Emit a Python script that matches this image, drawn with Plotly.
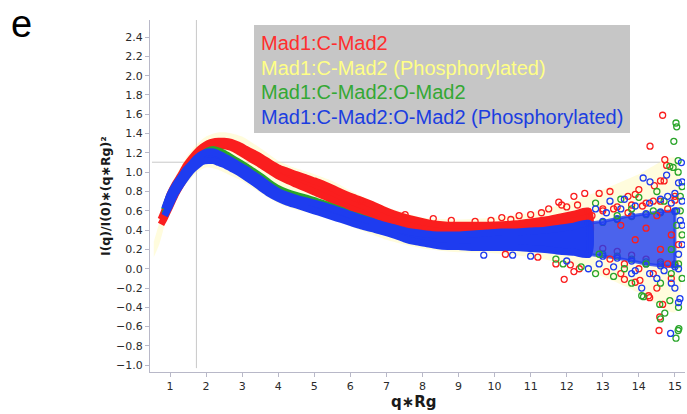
import plotly.graph_objects as go
import numpy as np

# ---------------- data ----------------
# common q*Rg sampling of the dense part of each Kratky curve
q_grid = [0.75, 0.85, 1.0, 1.15, 1.3, 1.45, 1.6, 1.75, 1.9, 2.05,
          2.2, 2.35, 2.5, 2.7, 2.9, 3.1, 3.3, 3.5, 3.75, 4.0,
          4.25, 4.5, 4.75, 5.0, 5.25, 5.5, 5.75, 6.0, 6.3, 6.6,
          6.9, 7.2, 7.5, 7.8, 8.1, 8.4, 8.7, 9.0, 9.4, 9.8,
          10.2, 10.6, 11.0, 11.4, 11.8, 12.2, 12.6, 13.0, 13.4, 13.8,
          14.2, 14.6, 15.0]

# Mad1:C-Mad2 (starts at q_grid[0])
red_lo = [0.46, 0.53, 0.65, 0.77, 0.87, 0.96, 1.04, 1.10, 1.16, 1.20,
          1.24, 1.27, 1.275, 1.255, 1.215, 1.17, 1.125, 1.08, 1.02, 0.96,
          0.915, 0.875, 0.835, 0.795, 0.755, 0.71, 0.665, 0.625, 0.58, 0.52,
          0.46, 0.43, 0.40, 0.38, 0.37, 0.35, 0.34, 0.35, 0.35, 0.35,
          0.35, 0.34, 0.33, 0.32, 0.30, 0.28, 0.25, 0.21, 0.18, 0.14,
          0.10, 0.07, 0.05]
red_hi = [0.51, 0.60, 0.77, 0.88, 0.97, 1.07, 1.145, 1.21, 1.26, 1.295,
          1.315, 1.32, 1.32, 1.31, 1.28, 1.24, 1.20, 1.16, 1.10, 1.045,
          1.01, 0.975, 0.945, 0.91, 0.875, 0.835, 0.79, 0.75, 0.71, 0.665,
          0.615, 0.57, 0.535, 0.505, 0.48, 0.46, 0.45, 0.45, 0.45, 0.45,
          0.455, 0.465, 0.485, 0.505, 0.535, 0.565, 0.595, 0.62, 0.64, 0.66,
          0.68, 0.70, 0.71]

# Mad1:C-Mad2:O-Mad2 (starts at q_grid[1])
green_lo = [0.57, 0.68, 0.80, 0.89, 0.97, 1.04, 1.09, 1.13, 1.14,
            1.14, 1.12, 1.10, 1.06, 1.02, 0.97, 0.92, 0.865, 0.80, 0.75,
            0.71, 0.68, 0.65, 0.62, 0.59, 0.56, 0.53, 0.50, 0.465, 0.435,
            0.405, 0.37, 0.33, 0.30, 0.28, 0.26, 0.25, 0.25, 0.24, 0.24,
            0.24, 0.24, 0.23, 0.22, 0.20, 0.19, 0.17, 0.15, 0.13, 0.10,
            0.07, 0.05, 0.04]
green_hi = [0.61, 0.76, 0.86, 0.94, 1.02, 1.08, 1.14, 1.18, 1.22,
            1.235, 1.22, 1.195, 1.15, 1.105, 1.06, 1.01, 0.96, 0.89, 0.83,
            0.79, 0.76, 0.735, 0.705, 0.675, 0.64, 0.605, 0.565, 0.53, 0.49,
            0.45, 0.42, 0.39, 0.37, 0.35, 0.345, 0.345, 0.345, 0.355, 0.365,
            0.37, 0.37, 0.38, 0.39, 0.41, 0.43, 0.46, 0.48, 0.51, 0.54,
            0.56, 0.58, 0.59]

# Mad1:C-Mad2:O-Mad2 (Phosphorylated) (starts at q_grid[1])
blue_lo = [0.55, 0.66, 0.78, 0.87, 0.95, 1.02, 1.07, 1.11, 1.12,
           1.12, 1.10, 1.08, 1.04, 1.0, 0.95, 0.90, 0.845, 0.78, 0.73,
           0.69, 0.66, 0.63, 0.60, 0.57, 0.54, 0.51, 0.48, 0.445, 0.415,
           0.385, 0.35, 0.31, 0.28, 0.26, 0.24, 0.23, 0.23, 0.22, 0.22,
           0.22, 0.22, 0.21, 0.20, 0.18, 0.17, 0.15, 0.13, 0.11, 0.08,
           0.05, 0.03, 0.02]
blue_hi = [0.62, 0.77, 0.87, 0.95, 1.03, 1.09, 1.15, 1.19, 1.21,
           1.21, 1.19, 1.16, 1.12, 1.075, 1.03, 0.98, 0.93, 0.86, 0.80,
           0.76, 0.73, 0.705, 0.68, 0.655, 0.625, 0.595, 0.56, 0.525, 0.49,
           0.455, 0.425, 0.395, 0.375, 0.36, 0.35, 0.35, 0.35, 0.36, 0.37,
           0.38, 0.38, 0.39, 0.40, 0.42, 0.44, 0.47, 0.49, 0.52, 0.55,
           0.57, 0.59, 0.60]

# Mad1:C-Mad2 (Phosphorylated): pale envelope
yel_q = [0.55, 0.7, 0.85, 1.0, 1.25, 1.5, 1.75, 2.0, 2.3, 2.6, 3.0, 3.5, 4.0, 4.5, 5.0, 5.5, 6.0,
         6.5, 7.0, 7.5, 8.0, 9.0, 10.0, 11.0, 12.0, 13.0, 14.0, 15.0]
yel_hi = [0.28, 0.47, 0.65, 0.82, 1.02, 1.18, 1.29, 1.37, 1.41, 1.41, 1.37, 1.25, 1.12, 1.04, 0.98,
          0.91, 0.81, 0.72, 0.64, 0.58, 0.53, 0.51, 0.53, 0.58, 0.68, 0.82, 0.98, 1.15]
yel_lo = [0.12, 0.25, 0.45, 0.60, 0.78, 0.90, 1.0, 1.05, 1.03, 0.98, 0.91, 0.79, 0.68, 0.61, 0.57,
          0.51, 0.44, 0.37, 0.30, 0.25, 0.21, 0.17, 0.16, 0.12, 0.05, -0.08, -0.25, -0.45]

# isolated noisy points
red_pts_q = [6.31, 7.52, 8.3, 8.8, 9.46, 9.9, 10.2, 10.45, 10.68, 11.0, 11.3, 11.5, 11.78, 11.86,
             12.0, 12.2, 12.3, 12.5, 12.9, 13.2, 13.7, 13.9, 14.0, 14.43, 14.6, 14.7, 14.72, 14.77,
             14.31, 14.66,
             10.3, 11.2, 11.7, 11.93, 12.1, 12.2, 12.35, 13.1, 13.5, 13.6, 13.9, 14.03, 14.27,
             14.3, 14.66, 14.58, 14.56, 14.5, 14.9,
             12.7, 13.0, 13.3, 13.5, 13.7, 13.9, 14.1, 14.2, 14.4, 14.5, 14.6, 14.8, 14.9, 15.0,
             13.2, 13.6, 14.0, 14.4, 14.8, 15.1]
red_pts_y = [0.70, 0.56, 0.52, 0.50, 0.49, 0.50, 0.53, 0.51, 0.55, 0.56, 0.58, 0.62, 0.69, 0.66,
             0.64, 0.75, 0.66, 0.78, 0.78, 0.80, 0.75, 0.77, 0.82, 0.86, 0.91, 0.91, 1.13, 1.07,
             1.27, 1.59,
             0.15, 0.12, 0.05, -0.11, 0.04, -0.03, 0.0, -0.03, -0.05, -0.11, -0.14, -0.12, -0.28,
             -0.30, -0.37, -0.50, -0.64, -0.20, -0.10,
             0.55, 0.60, 0.62, 0.45, 0.58, 0.30, 0.65, 0.42, 0.70, 0.55, 0.20, 0.62, 0.35, 0.75,
             0.10, 0.05, 0.0, -0.05, 0.05, 0.25]
green_pts_q = [11.7, 11.9, 12.4, 12.8, 13.3, 13.8, 14.08, 14.13, 14.58, 14.72, 14.6, 14.86, 15.1,
               15.11, 15.03, 15.09, 14.9, 15.1, 12.8, 13.5, 14.0, 14.5, 14.95, 15.09, 15.09, 14.97,
               15.03, 15.05, 14.86, 15.2, 15.15, 15.2,
               12.9, 13.4, 13.8, 14.2, 14.4, 14.7, 14.9, 15.05, 15.15, 15.2, 14.6, 13.6]
green_pts_y = [0.10, 0.05, 0.02, -0.05, -0.08, -0.15, -0.28, -0.29, -0.37, -0.46, -0.52, -0.33, -0.40,
               -0.62, -0.72, -0.64, -0.05, 0.05, 0.68, 0.72, 0.74, 0.80, 1.05, 1.0, 1.12, 1.32,
               1.51, 1.47, 1.06, 0.85, 0.60, 0.35,
               0.15, 0.55, 0.62, 0.05, 0.60, 0.70, 0.20, 0.45, 0.75, -0.10, -0.15, 0.0]
blue_pts_q = [9.7, 10.5, 11.0, 12.0, 12.6, 13.2, 13.6, 14.12, 14.31, 14.77, 15.1, 15.18, 15.0, 15.2,
              14.8, 15.15, 15.2, 15.1, 14.08, 15.0, 15.1, 15.14, 14.88, 14.5, 13.8, 14.9,
              12.8, 13.1, 13.5, 13.9, 14.3, 14.6, 14.9, 15.05, 15.2, 12.9, 13.3, 13.9, 14.3, 14.7,
              15.1, 15.2]
blue_pts_y = [0.14, 0.14, 0.13, 0.08, 0.0, 0.70, 0.72, 0.94, 0.90, 0.97, 0.89, 1.10, 0.78, 0.70,
              0.75, 0.50, 0.25, 0.15, -0.20, -0.20, -0.35, -0.31, -0.67, -0.10, -0.05, -0.15,
              0.62, 0.58, 0.62, 0.65, 0.68, 0.72, 0.68, 0.60, 0.45, 0.05, 0.02, -0.02, -0.05, -0.02,
              0.0, 0.90]

legend_labels = ["Mad1:C-Mad2", "Mad1:C-Mad2 (Phosphorylated)",
                 "Mad1:C-Mad2:O-Mad2", "Mad1:C-Mad2:O-Mad2 (Phosphorylated)"]

x_ticks = [1, 2, 3, 4, 5, 6, 7, 8, 9, 10, 11, 12, 13, 14, 15]
y_ticks = [-1.0, -0.8, -0.6, -0.4, -0.2, 0.0, 0.2, 0.4, 0.6, 0.8, 1.0, 1.2, 1.4, 1.6,
           1.8, 2.0, 2.2, 2.4]

# Kratky guide: peak position of a globular particle
guide_q = 3 ** 0.5
guide_y = 3 / np.e

# beyond this q*Rg the curves break up into a sparse cloud
dense_until = 12.6

# ---------------- style ----------------
RED, GREEN, BLUE = "#fa1e1e", "#2aa52a", "#1e3cf0"
YEL_FILL = "rgba(255,246,150,0.32)"
TEXT_COLORS = ["#ff2e2e", "#ffff86", "#34a834", "#1c3ee0"]
AXIS_COLOR = "#b8b8c8"
GUIDE_COLOR = "#c8c8c8"
TICK_FONT = dict(family="DejaVu Sans", size=11, color="#2a2a2a")
EDGE = 7  # stroke around each band, about one marker diameter

W, H = 687, 414
ML, MR, MT, MB = 150, 2, 20, 42
PW, PH = W - ML - MR, H - MT - MB


def xp(px):
    return (px - ML) / PW


def yp(py):
    return 1 - (py - MT) / PH


def open_circles(color, size=6):
    return dict(symbol="circle-open", size=size, color=color, line=dict(width=1.3, color=color))


def band_traces(q, lo, hi, col):
    """Dense body of a curve as a filled band; the sparse tail is returned separately."""
    d = [i for i, v in enumerate(q) if v <= dense_until]
    s = [i for i, v in enumerate(q) if v >= dense_until]
    qd, lod, hid = [q[i] for i in d], [lo[i] for i in d], [hi[i] for i in d]
    qs, los, his = [q[i] for i in s], [lo[i] for i in s], [hi[i] for i in s]
    out = [
        go.Scatter(x=qd + qd[::-1], y=hid + lod[::-1], mode="lines", fill="toself",
                   fillcolor=col,
                   line=dict(color=col, width=EDGE, shape="spline", smoothing=0.7)),
        go.Scatter(x=qs + qs, y=los + his, mode="markers", marker=open_circles(col)),
    ]
    return out, (qs, los, his)


fig = go.Figure()

# pale envelope of the phosphorylated C-Mad2 curve
fig.add_trace(go.Scatter(
    x=yel_q + yel_q[::-1], y=yel_hi + yel_lo[::-1], mode="lines", fill="toself",
    fillcolor=YEL_FILL, line=dict(width=0, shape="spline", smoothing=0.7)))

bands = [
    (q_grid, red_lo, red_hi, RED),
    (q_grid[1:], green_lo, green_hi, GREEN),
    (q_grid[1:], blue_lo, blue_hi, BLUE),
]
tails = {}
for q, lo, hi, col in bands:
    traces, tails[col] = band_traces(q, lo, hi, col)
    for t in traces:
        fig.add_trace(t)

# the phosphorylated complex keeps a dense core in the noisy tail
qs, los, his = tails[BLUE]
fig.add_trace(go.Scatter(x=qs + qs[::-1], y=his + los[::-1], mode="lines", fill="toself",
                         fillcolor="rgba(30,60,240,0.8)",
                         line=dict(width=3, color="rgba(30,60,240,0.8)")))

for qs_, ys_, col in [(red_pts_q, red_pts_y, RED), (green_pts_q, green_pts_y, GREEN),
                      (blue_pts_q, blue_pts_y, BLUE)]:
    fig.add_trace(go.Scatter(x=qs_, y=ys_, mode="markers", marker=open_circles(col)))

fig.update_traces(hoverinfo="skip", showlegend=False)

x_range = [0.445, 15.28]
y_range = [-1.07, 2.577]

shapes = [
    dict(type="line", xref="x", yref="y", x0=guide_q, x1=guide_q, y0=-1.03, y1=y_range[1],
         line=dict(color=GUIDE_COLOR, width=1), layer="below"),
    dict(type="line", xref="x", yref="y", x0=0.5, x1=14.6, y0=guide_y, y1=guide_y,
         line=dict(color=GUIDE_COLOR, width=1), layer="below"),
    dict(type="rect", xref="paper", yref="paper", x0=xp(254), x1=xp(630), y0=yp(133), y1=yp(25),
         fillcolor="#c6c6c6", line=dict(width=0), layer="above"),
]

annotations = []
for i, (label, col) in enumerate(zip(legend_labels, TEXT_COLORS)):
    annotations.append(dict(
        text=label, xref="paper", yref="paper", x=xp(259), y=yp(43 + 24.5 * i),
        xanchor="left", yanchor="middle", showarrow=False,
        font=dict(family="Liberation Sans, Arial", size=20, color=col)))

annotations += [
    dict(text="e", xref="paper", yref="paper", x=xp(9), y=yp(1), xanchor="left",
         yanchor="top", showarrow=False,
         font=dict(family="Liberation Sans, Arial", size=38, color="#000000")),
    dict(text="<b>I(q)/I(0)∗(q∗Rg)²</b>", xref="paper", yref="paper", x=xp(105), y=yp(196),
         xanchor="center", yanchor="middle", textangle=-90, showarrow=False,
         font=dict(family="DejaVu Sans", size=12.5, color="#1a1a1a")),
    dict(text="<b>q∗Rg</b>", xref="paper", yref="paper", x=xp(414), y=yp(402),
         xanchor="center", yanchor="middle", showarrow=False,
         font=dict(family="DejaVu Sans", size=15, color="#1a1a1a")),
]

fig.update_layout(
    width=W, height=H,
    margin=dict(l=ML, r=MR, t=MT, b=MB),
    paper_bgcolor="white", plot_bgcolor="white",
    showlegend=False,
    shapes=shapes, annotations=annotations,
    xaxis=dict(range=x_range, tickmode="array", tickvals=x_ticks,
               ticktext=[str(v) for v in x_ticks],
               showgrid=False, zeroline=False, showline=True, linecolor=AXIS_COLOR, linewidth=1,
               ticks="outside", ticklen=4, tickcolor=AXIS_COLOR, tickfont=TICK_FONT),
    yaxis=dict(range=y_range, tickmode="array", tickvals=y_ticks,
               ticktext=[f"{v:.1f}".replace("-", "\u2212") for v in y_ticks],
               showgrid=False, zeroline=False, showline=True, linecolor=AXIS_COLOR, linewidth=1,
               ticks="outside", ticklen=4, tickcolor=AXIS_COLOR, tickfont=TICK_FONT),
)

fig.write_html("out.html")
